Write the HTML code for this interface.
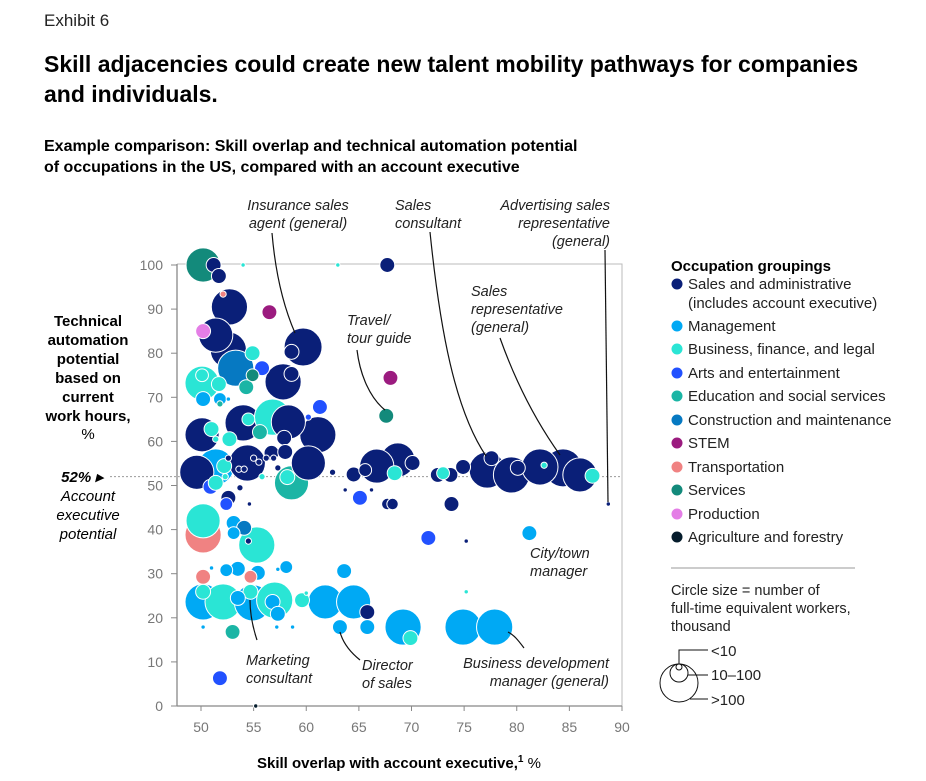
<!DOCTYPE html>
<html><head><meta charset="utf-8">
<style>
body{margin:0;background:#fff;font-family:"Liberation Sans",Arial,sans-serif;}
svg{display:block}
text{font-family:"Liberation Sans",Arial,sans-serif;}
</style></head>
<body>
<svg id="chart" width="926" height="781" viewBox="0 0 926 781">
<text x="44" y="26" font-size="17" fill="#222">Exhibit 6</text>
<text x="44" y="72" font-size="23" font-weight="bold" fill="#000">Skill adjacencies could create new talent mobility pathways for companies</text>
<text x="44" y="102" font-size="23" font-weight="bold" fill="#000">and individuals.</text>
<text x="44" y="151" font-size="16" font-weight="bold" fill="#000">Example comparison: Skill overlap and technical automation potential</text>
<text x="44" y="172" font-size="16" font-weight="bold" fill="#000">of occupations in the US, compared with an account executive</text>

<g font-size="15" font-weight="bold" text-anchor="middle" fill="#000">
<text x="88" y="326">Technical</text><text x="88" y="345">automation</text><text x="88" y="364">potential</text><text x="88" y="383">based on</text><text x="88" y="402">current</text><text x="88" y="421">work hours,</text><text x="88" y="439" font-weight="normal">%</text>
</g>
<g font-size="15" font-style="italic" text-anchor="middle" fill="#000">
<text x="82" y="482" font-weight="bold">52% ▸</text><text x="88" y="501">Account</text><text x="88" y="520">executive</text><text x="88" y="539">potential</text>
</g>

<g id="axes"></g>
<g id="bubbles"></g>

<g font-size="14.5" font-style="italic" fill="#222">
<text x="298" y="210" text-anchor="middle">Insurance sales</text><text x="298" y="228" text-anchor="middle">agent (general)</text>
<text x="395" y="210">Sales</text><text x="395" y="228">consultant</text>
<text x="610" y="210" text-anchor="end">Advertising sales</text><text x="610" y="228" text-anchor="end">representative</text><text x="610" y="246" text-anchor="end">(general)</text>
<text x="347" y="325">Travel/</text><text x="347" y="343">tour guide</text>
<text x="471" y="296">Sales</text><text x="471" y="314">representative</text><text x="471" y="332">(general)</text>
<text x="530" y="558">City/town</text><text x="530" y="576">manager</text>
<text x="246" y="665">Marketing</text><text x="246" y="683">consultant</text>
<text x="362" y="670">Director</text><text x="362" y="688">of sales</text>
<text x="609" y="668" text-anchor="end">Business development</text><text x="609" y="686" text-anchor="end">manager (general)</text>
<g fill="none" stroke="#111" stroke-width="1.2">
<path d="M272,233 C276,280 285,310 295,333"/>
<path d="M430,232 C440,330 455,410 486,456"/>
<path d="M605,250 C606,350 608,440 608,502"/>
<path d="M357,350 C360,375 370,398 385,410"/>
<path d="M500,338 C515,380 535,420 560,455"/>
<path d="M257,640 C252,625 250,612 250,600"/>
<path d="M360,660 C350,652 343,643 340,632"/>
<path d="M524,648 C518,640 514,635 508,632"/>
</g>
</g>

<g font-size="15" fill="#222">
<text x="671" y="271" font-weight="bold" fill="#000">Occupation groupings</text>
<g id="legend-entries"></g>
<line x1="671" y1="568" x2="855" y2="568" stroke="#999" stroke-width="1"/>
<text x="671" y="595" font-size="14.5">Circle size = number of</text>
<text x="671" y="613" font-size="14.5">full-time equivalent workers,</text>
<text x="671" y="631" font-size="14.5">thousand</text>
<g fill="none" stroke="#111" stroke-width="1">
<circle cx="679" cy="683" r="19"/><circle cx="679" cy="673" r="9"/><circle cx="679" cy="667" r="3"/>
<path d="M679,664 L679,650 L708,650"/><path d="M688,675 L708,675"/><path d="M690,699 L708,699"/>
</g>
<text x="711" y="656" font-size="15">&lt;10</text>
<text x="711" y="680" font-size="15">10–100</text>
<text x="711" y="705" font-size="15">&gt;100</text>
</g>

<text x="399" y="768" font-size="15" font-weight="bold" text-anchor="middle" fill="#000">Skill overlap with account executive,<tspan font-size="10" dy="-6">1</tspan><tspan dy="6" font-weight="normal"> %</tspan></text>
</svg>
<script>
const groups=["Sales and administrative","Management","Business, finance, and legal","Arts and entertainment","Education and social services","Construction and maintenance","STEM","Transportation","Services","Production","Agriculture and forestry"];
const groupColors=["#0a1f78","#00a9f4","#2ae5d5","#2251ff","#1bb5a5","#0679c2","#9b1b7f","#f08282","#138a7b","#e47ee6","#051c2c"];
const xTicks=[50,55,60,65,70,75,80,85,90];
const yTicks=[0,10,20,30,40,50,60,70,80,90,100];
const accountExecY=52;
const xs=[50.2,51.2,51.7,54,63,67.7,52.1,52.7,56.5,50.2,51.4,52.6,53.3,54.9,54.9,55.8,54.3,59.7,58.6,57.8,58.6,50.1,50.1,51.7,50.2,51.8,52.6,51.8,68,67.6,61.3,60.2,50.1,51,51.4,54,54.5,56.8,58.3,57.9,61.1,55.6,52.7,
49.6,51.4,54.4,58.6,58.2,60.2,56.7,58,50.9,51.4,52.2,52.6,53.6,54.1,55,55.5,56.2,56.9,57.3,52.3,55.8,53.7,
68.7,66.7,70.1,68.4,72.5,73,73.7,74.9,77.2,77.6,79.5,80.1,82.2,84.4,86,87.2,82.6,65.6,63.7,66.2,67.7,68.2,62.5,64.5,
73.8,88.7,71.6,75.2,81.2,75.2,69.2,69.9,74.9,77.9,
50.2,50.2,53.1,54.1,53.1,55.3,54.5,52.6,52.4,54.6,65.1,50.2,51,52.4,53.5,54.7,55.4,58.1,57.3,63.6,50.2,52.1,54.9,57,50.2,54.7,53.5,56.8,57.3,59.6,61.8,64.5,65.8,63.2,65.8,53,51.8,55.2,50.2,57.2,58.7,60];
const ys=[100,100,97.5,100,100,100,93.4,90.5,89.3,85,84.1,80.7,76.6,80,75,76.6,72.3,81.4,80.3,73.5,75.3,73.2,75,73,69.6,69.6,69.6,68.5,74.4,65.8,67.8,65.5,61.5,62.8,60.5,64.2,65,65.5,64.4,60.8,61.5,62.1,60.5,
53,54.2,55.1,50.6,51.9,55.1,57.4,57.6,49.7,50.6,54.4,56.2,53.7,53.7,56.2,55.3,56.2,56.2,54,52,52,49.5,
55.8,54.4,55.1,52.8,52.4,52.8,52.4,54.2,53.5,56.2,52.4,54,54.2,54,52.4,52.2,54.6,53.5,49,49,45.8,45.8,53,52.5,
45.8,45.8,38.1,37.4,39.2,25.9,17.9,15.4,17.9,17.9,
38.8,42,41.5,40.4,39.2,36.5,37.4,47.2,45.8,45.8,47.2,29.3,31.3,30.8,31.1,29.3,30.2,31.5,31,30.6,23.6,23.6,23.4,24,25.9,25.9,24.5,23.6,20.9,24,23.6,23.6,21.3,17.9,17.9,16.8,6.3,0,17.9,17.9,17.9,25.6];
const workers=[178,34,34,3,3,34,6,200,34,34,178,200,200,34,25,34,34,220,34,200,34,178,25,34,34,25,3,6,34,34,34,6,178,34,6,200,25,200,178,34,200,34,34,
178,200,200,178,34,178,34,34,34,34,34,6,6,6,6,6,6,6,6,6,6,6,
178,178,34,34,34,25,34,34,200,34,200,34,200,220,178,34,6,25,3,3,20,20,6,34,
34,3,34,3,34,3,200,34,200,200,
200,178,34,34,25,200,6,34,25,3,34,34,3,25,34,25,34,25,3,34,200,200,200,200,34,34,34,34,34,34,178,178,34,34,34,34,34,3,3,3,3,3];
const groupIdx=[8,0,0,2,2,0,7,0,6,9,0,0,5,2,8,3,4,0,0,0,0,2,2,2,1,1,1,4,6,8,3,3,0,2,2,0,2,2,0,0,0,4,2,
0,1,0,4,2,0,0,0,3,2,2,0,0,0,0,0,0,0,0,2,2,0,
0,0,0,2,0,2,0,0,0,0,0,0,0,0,0,2,2,0,0,0,0,0,0,0,
0,0,3,0,1,2,1,2,1,1,
7,2,1,5,1,2,0,0,3,0,3,7,1,1,1,7,1,1,1,1,1,2,1,2,2,2,1,1,1,2,1,1,0,1,1,4,3,10,1,1,1,2];

const NS="http://www.w3.org/2000/svg";
const X0=177,X1=622,Y0=706,Y1=264;
function xScale(v){return 201+(v-50)*10.525;}
function yScale(v){return 706-v*4.41;}
function rScale(w){return 1.28*Math.sqrt(w);}
function mk(tag,attrs,parent){const e=document.createElementNS(NS,tag);for(const k in attrs)e.setAttribute(k,attrs[k]);parent.appendChild(e);return e;}

const axes=document.getElementById('axes');
mk('path',{d:`M${X0},${Y1} L${X1},${Y1} L${X1},${Y0}`,fill:'none',stroke:'#bbb','stroke-width':1},axes);
const yLine=mk('line',{x1:X0,y1:Y1,x2:X0,y2:Y0,stroke:'#888','stroke-width':1.3},axes);


const xLine=mk('line',{x1:X0,y1:Y0,x2:X1,y2:Y0,stroke:'#888','stroke-width':1.3},axes);


yTicks.forEach(t=>{
  const y=yScale(t);
  mk('line',{x1:X0-6,y1:y,x2:X0,y2:y,stroke:'#888'},axes);
  const tx=mk('text',{x:X0-14,y:y+5,'font-size':14,fill:'#777','text-anchor':'end'},axes);
  tx.textContent=t;
  
  
});
xTicks.forEach(t=>{
  const x=xScale(t);
  mk('line',{x1:x,y1:Y0,x2:x,y2:Y0+5,stroke:'#888'},axes);
  const tx=mk('text',{x:x,y:Y0+26,'font-size':14,fill:'#777','text-anchor':'middle'},axes);
  tx.textContent=t;
  
  
});
const ref=mk('line',{x1:110,y1:yScale(accountExecY),x2:X1,y2:yScale(accountExecY),stroke:'#999','stroke-dasharray':'2,2','stroke-width':1},axes);



const bg=document.getElementById('bubbles');
const order=xs.map((_,i)=>i).sort((a,b)=>workers[b]-workers[a]);
order.forEach(i=>{
  const c=mk('circle',{cx:xScale(xs[i]),cy:yScale(ys[i]),r:rScale(workers[i]),fill:groupColors[groupIdx[i]],stroke:'#fff','stroke-width':1},bg);
  
  
});

const le=document.getElementById('legend-entries');
const ly=[289,331,354,378,401,425,448,472,495,519,542];
groups.forEach((g,i)=>{
  const d=mk('circle',{cx:677,cy:ly[i]-5,r:5.5,fill:groupColors[i]},le);
  
  
  const t=mk('text',{x:688,y:ly[i],'font-size':15,fill:'#222'},le);
  t.textContent=g;
  
  
});
const t2=mk('text',{x:688,y:308,'font-size':15,fill:'#222'},le);
t2.textContent='(includes account executive)';


</script>
</body></html>
